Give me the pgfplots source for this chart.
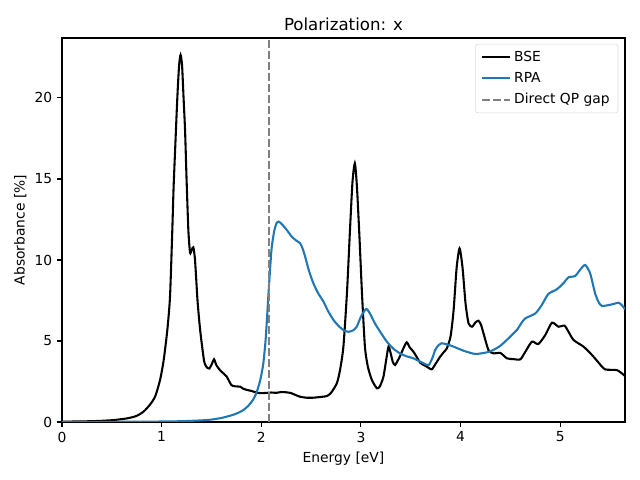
\documentclass[border=0pt]{standalone}
\usepackage{pgfplots}
\pgfplotsset{compat=1.18}
\usepackage{fontspec}
\setmainfont{DejaVu Sans}
\definecolor{mplblue}{HTML}{1F77B4}
\definecolor{mplgray}{HTML}{808080}
\begin{document}
\begin{tikzpicture}
\useasboundingbox (0,0) rectangle (6.4in,4.8in);
\begin{axis}[
  at={(0.62in,0.58in)}, anchor=south west,
  scale only axis, width=5.63in, height=3.84in,
  xmin=0, xmax=5.65, ymin=0, ymax=23.7,
  xtick={0,1,2,3,4,5}, ytick={0,5,10,15,20},
  tick align=outside, major tick length=3.5pt,
  xtick pos=bottom, ytick pos=left,
  every tick/.style={black, line width=0.8pt},
  axis line style={line width=0.8pt},
  /pgf/number format/assume math mode=true,
  tick label style={font=\fontsize{10}{12}\selectfont},
  label style={font=\fontsize{10}{12}\selectfont},
  xlabel={Energy [eV]}, ylabel={Absorbance [\%]},
  xlabel style={yshift=0pt},
  ylabel style={yshift=-1pt},
  title={Polarization: x},
  title style={font=\fontsize{12}{14}\selectfont, yshift=-4pt},
  legend style={at={(0.988,0.985)}, anchor=north east, draw=black!15, rounded corners=2pt,
    fill=white, fill opacity=0.8, text opacity=1, font=\fontsize{10}{12}\selectfont,
    inner xsep=4pt, inner ysep=3pt, row sep=2.5pt},
  legend cell align=left,
  legend image code/.code={\draw[#1] (0cm,0cm) -- (0.72cm,0cm);},
]
\addplot[black, line width=1.5pt, smooth, tension=0.4] coordinates {
(0.00,0.02) (0.30,0.05) (0.50,0.11) (0.65,0.22) (0.75,0.38) (0.82,0.65) (0.88,1.05)
(0.934,1.56) (0.984,2.59) (1.02,3.8) (1.057,5.68) (1.084,7.74) (1.107,11.85) (1.12,14.5)
(1.14,17.5) (1.158,20.1) (1.175,22.0) (1.19,22.65) (1.205,22.0) (1.22,20.0) (1.235,18)
(1.25,15) (1.268,11.85) (1.285,10.45) (1.30,10.6) (1.318,10.78) (1.335,10.0) (1.36,7.5)
(1.386,5.7) (1.425,3.8) (1.45,3.4) (1.479,3.3) (1.505,3.6) (1.526,3.87) (1.55,3.5)
(1.586,3.2) (1.62,3.0) (1.653,2.8) (1.70,2.28) (1.74,2.2) (1.787,2.18) (1.82,2.05)
(1.854,1.98) (1.90,1.92) (1.955,1.81) (2.0,1.78) (2.06,1.8) (2.1,1.82) (2.15,1.8)
(2.2,1.85) (2.256,1.83) (2.3,1.78) (2.35,1.65) (2.39,1.56) (2.45,1.5) (2.523,1.5)
(2.6,1.55) (2.657,1.6) (2.7,1.8) (2.758,2.39) (2.79,3.2) (2.824,4.65) (2.86,8.0)
(2.89,11.85) (2.915,14.8) (2.939,15.97) (2.96,14.5) (2.985,11.44) (3.01,8.0) (3.04,4.65)
(3.07,3.4) (3.11,2.59) (3.16,2.08) (3.19,2.2) (3.226,2.8) (3.255,3.9) (3.277,4.65)
(3.30,4.2) (3.32,3.7) (3.343,3.52) (3.37,3.8) (3.39,4.03) (3.43,4.6) (3.46,4.92)
(3.49,4.6) (3.527,4.34) (3.577,3.83) (3.594,3.66) (3.62,3.55) (3.66,3.42) (3.71,3.25)
(3.75,3.6) (3.795,4.03) (3.83,4.3) (3.862,4.55) (3.9,5.3) (3.93,6.9) (3.96,9.5)
(3.99,10.72) (4.02,9.5) (4.05,7.3) (4.08,6.09) (4.115,5.88) (4.15,6.15) (4.18,6.25)
(4.205,6.0) (4.23,5.47) (4.28,4.44) (4.33,4.24) (4.40,4.26) (4.465,3.93) (4.53,3.88)
(4.6,3.87) (4.65,4.34) (4.716,4.96) (4.78,4.81) (4.85,5.37) (4.917,6.13) (4.983,5.88)
(5.043,5.95) (5.08,5.6) (5.134,5.06) (5.234,4.65) (5.318,4.14) (5.38,3.7) (5.45,3.25)
(5.57,3.2) (5.65,2.84)
};
\addlegendentry{BSE}
\addplot[mplblue, line width=1.5pt, smooth, tension=0.4] coordinates {
(0,0.0) (0.5,0.01) (1.0,0.03) (1.2,0.05) (1.4,0.1) (1.5,0.15) (1.6,0.25) (1.653,0.33)
(1.72,0.45) (1.78,0.6) (1.82,0.74) (1.87,1.0) (1.92,1.4) (1.955,1.87) (1.99,2.6)
(2.02,3.6) (2.045,5.2) (2.07,7.7) (2.09,9.6) (2.105,10.8) (2.13,11.8) (2.155,12.3)
(2.172,12.37) (2.2,12.25) (2.25,11.9) (2.306,11.44) (2.35,11.2) (2.39,11.03) (2.415,10.7)
(2.44,10.2) (2.48,9.3) (2.523,8.56) (2.57,7.95) (2.624,7.43) (2.67,6.85) (2.724,6.3)
(2.78,5.9) (2.83,5.65) (2.875,5.57) (2.92,5.65) (2.958,5.88) (3.0,6.5) (3.052,6.98)
(3.09,6.7) (3.14,6.09) (3.2,5.5) (3.26,4.96) (3.32,4.55) (3.39,4.24) (3.46,4.05)
(3.52,3.95) (3.56,3.83) (3.62,3.65) (3.68,3.52) (3.72,4.0) (3.745,4.44) (3.78,4.75)
(3.81,4.86) (3.87,4.78) (3.93,4.65) (4.03,4.4) (4.147,4.2) (4.264,4.3) (4.33,4.45)
(4.40,4.71) (4.48,5.16) (4.565,5.68) (4.61,6.1) (4.65,6.4) (4.75,6.7) (4.815,7.22)
(4.88,7.9) (4.966,8.19) (5.03,8.55) (5.083,8.93) (5.15,9.01) (5.2,9.4) (5.25,9.69)
(5.30,9.18) (5.35,7.94) (5.385,7.4) (5.42,7.16) (5.52,7.26) (5.585,7.36) (5.62,7.2)
(5.65,6.96)
};
\addlegendentry{RPA}
\addplot[mplgray, line width=1.5pt, dash pattern=on 5.55pt off 2.4pt] coordinates {(2.075,0) (2.075,23.7)};
\addlegendentry{Direct QP gap}
\end{axis}
\end{tikzpicture}
\end{document}
